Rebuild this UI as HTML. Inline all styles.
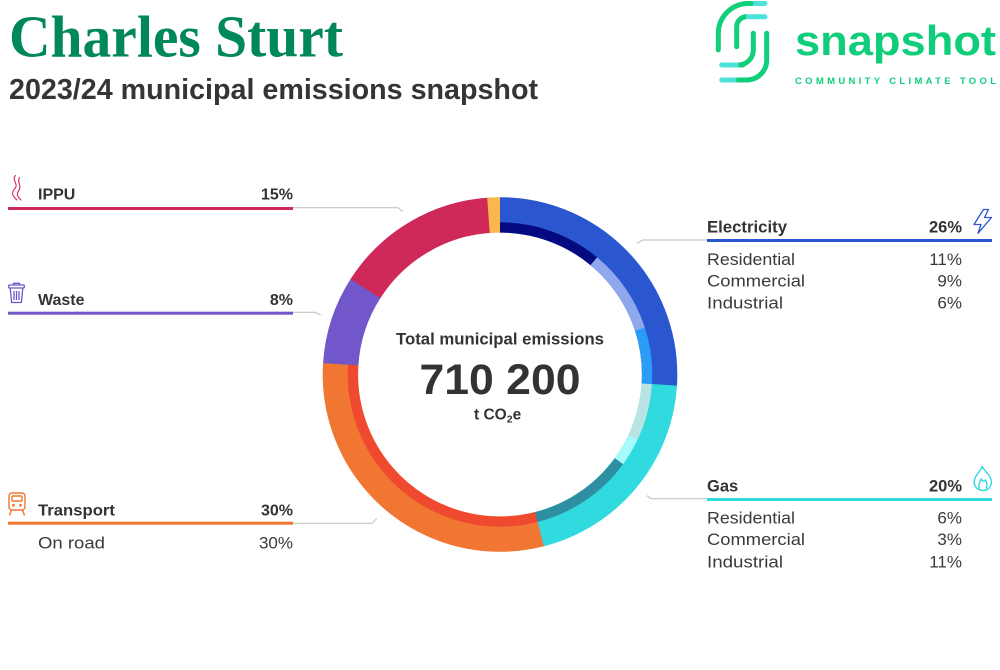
<!DOCTYPE html>
<html>
<head>
<meta charset="utf-8">
<style>
  html, body { margin: 0; padding: 0; background: #ffffff; }
  body { width: 1000px; height: 670px; overflow: hidden; }
  svg { display: block; }
  text { font-family: "Liberation Sans", Arial, sans-serif; }
</style>
</head>
<body>
<svg width="1000" height="670" viewBox="0 0 1000 670" xmlns="http://www.w3.org/2000/svg">
  <rect x="0" y="0" width="1000" height="670" fill="#ffffff"/>

  <!-- Title -->
  <text x="9" y="56.7" font-family="Liberation Serif, serif" font-weight="bold" font-size="59" fill="#00875a" textLength="334" lengthAdjust="spacingAndGlyphs" style="font-family:'Liberation Serif', serif">Charles Sturt</text>
  <text x="9" y="99" font-weight="bold" font-size="28.5" fill="#353535" textLength="529" lengthAdjust="spacingAndGlyphs">2023/24 municipal emissions snapshot</text>

  <!-- Logo icon -->
  <g fill="none" stroke-width="5" stroke-linecap="round">
    <path d="M765 3.5 H751" stroke="#4de2d9"/>
    <path d="M751 3.5 H748 A30 30 0 0 0 718.3 33.3 V50" stroke="#12cf7b"/>
    <path d="M765 16.8 H745" stroke="#4de2d9"/>
    <path d="M745 16.8 H746 A10 10 0 0 0 736.7 27 V46.7" stroke="#12cf7b"/>
    <path d="M743 65 H721.7" stroke="#4de2d9"/>
    <path d="M753.3 33.3 V50 A15 15 0 0 1 738.3 65 H743" stroke="#12cf7b"/>
    <path d="M738.3 80 H721.7" stroke="#4de2d9"/>
    <path d="M766.7 33.3 V60 A20 20 0 0 1 746.7 80 H738.3" stroke="#12cf7b"/>
  </g>
  <text x="795" y="55" font-weight="bold" font-size="42" fill="#10cd7c" textLength="201" lengthAdjust="spacingAndGlyphs">snapshot</text>
  <text x="795" y="84" font-weight="bold" font-size="9.5" fill="#10cd7c" textLength="201" lengthAdjust="spacing">COMMUNITY CLIMATE TOOL</text>

  <!-- Donut main ring -->
  <g transform="rotate(-90 500 374.5)" fill="none">
    <circle cx="500" cy="374.5" r="159.6" stroke="#2a57cf" stroke-width="35.4" stroke-dasharray="262.7 740.1" stroke-dashoffset="1"/>
    <circle cx="500" cy="374.5" r="159.6" stroke="#30dade" stroke-width="35.4" stroke-dasharray="201.6 801.2" stroke-dashoffset="-260.7"/>
    <circle cx="500" cy="374.5" r="159.6" stroke="#f07631" stroke-width="35.4" stroke-dasharray="301.8 701" stroke-dashoffset="-461.3"/>
    <circle cx="500" cy="374.5" r="159.6" stroke="#7257cb" stroke-width="35.4" stroke-dasharray="81.2 921.6" stroke-dashoffset="-762.1"/>
    <circle cx="500" cy="374.5" r="159.6" stroke="#cf2959" stroke-width="35.4" stroke-dasharray="151.4 851.4" stroke-dashoffset="-842.4"/>
    <circle cx="500" cy="374.5" r="159.6" stroke="#fbb64d" stroke-width="35.4" stroke-dasharray="12 990.8" stroke-dashoffset="-990.8"/>

    <!-- Sub ring -->
    <circle cx="500" cy="374.5" r="147.1" stroke="#050a80" stroke-width="10.2" stroke-dasharray="102.5 821.8" stroke-dashoffset="0"/>
    <circle cx="500" cy="374.5" r="147.1" stroke="#8fa7ec" stroke-width="10.2" stroke-dasharray="84 840.3" stroke-dashoffset="-101.7"/>
    <circle cx="500" cy="374.5" r="147.1" stroke="#2a9cf8" stroke-width="10.2" stroke-dasharray="56.3 868" stroke-dashoffset="-184.9"/>
    <circle cx="500" cy="374.5" r="147.1" stroke="#bae3e3" stroke-width="10.2" stroke-dasharray="56.3 868" stroke-dashoffset="-240.3"/>
    <circle cx="500" cy="374.5" r="147.1" stroke="#a7fbfc" stroke-width="10.2" stroke-dasharray="28.5 895.8" stroke-dashoffset="-295.8"/>
    <circle cx="500" cy="374.5" r="147.1" stroke="#2f8fa2" stroke-width="10.2" stroke-dasharray="102.5 821.8" stroke-dashoffset="-323.5"/>
    <circle cx="500" cy="374.5" r="147.1" stroke="#ef4a30" stroke-width="10.2" stroke-dasharray="277.3 647" stroke-dashoffset="-425.2"/>
  </g>

  <!-- Center text -->
  <text x="500" y="344.3" text-anchor="middle" font-weight="bold" font-size="16.6" fill="#333333" textLength="208" lengthAdjust="spacingAndGlyphs">Total municipal emissions</text>
  <text x="500" y="394" text-anchor="middle" font-weight="bold" font-size="43" fill="#333333" textLength="161" lengthAdjust="spacingAndGlyphs">710 200</text>
  <text x="474" y="419.3" font-weight="bold" font-size="15.5" fill="#333333">t CO<tspan font-size="10.5" dy="3">2</tspan><tspan dy="-3">e</tspan></text>

  <!-- Leader lines -->
  <g fill="none" stroke="#bdbdbd" stroke-width="1">
    <path d="M293 207.8 H398.3 L402.7 211.7"/>
    <path d="M293 312.3 H315 L320.7 315"/>
    <path d="M293 523.3 H372.3 L376.7 518.3"/>
    <path d="M707 240 H643 L636.7 243.3"/>
    <path d="M707 498.7 H651.7 L646.7 495.7"/>
  </g>

  <!-- Left: IPPU -->
  <g fill="none" stroke="#d42a5a" stroke-width="1.1" stroke-linecap="round">
    <path d="M15.5 175.5 C11 180, 19.5 184, 14.5 189 C10.5 193, 13.5 197, 17 200"/>
    <path d="M19.5 177.5 C16.5 182, 22.5 186, 18.5 191 C15.5 195, 19 198, 21 200"/>
  </g>
  <text x="38" y="199.3" font-weight="bold" font-size="16" fill="#333333">IPPU</text>
  <text x="293" y="199.3" text-anchor="end" font-weight="bold" font-size="16" fill="#333333">15%</text>
  <rect x="8" y="207" width="285" height="3" fill="#cf2959"/>

  <!-- Left: Waste -->
  <g fill="none" stroke="#7255cc" stroke-width="1.3" stroke-linejoin="round">
    <rect x="8.7" y="285" width="15.6" height="3" rx="1"/>
    <path d="M13.5 285 V283.3 H19.5 V285"/>
    <path d="M10.2 288 L11.6 302.5 H21.4 L22.8 288"/>
    <path d="M14 291 V300 M16.5 291 V300 M19 291 V300"/>
  </g>
  <text x="38" y="305" font-weight="bold" font-size="16" fill="#333333">Waste</text>
  <text x="293" y="305" text-anchor="end" font-weight="bold" font-size="16" fill="#333333">8%</text>
  <rect x="8" y="311.7" width="285" height="3" fill="#7257cb"/>

  <!-- Left: Transport -->
  <g fill="none" stroke="#f07531" stroke-width="1.4" stroke-linejoin="round">
    <rect x="9" y="493" width="16" height="17" rx="3"/>
    <rect x="12" y="496" width="10" height="5" rx="1"/>
    <path d="M11.5 510 L9.5 515.5 M22.5 510 L24.5 515.5"/>
  </g>
  <circle cx="13.5" cy="505.3" r="1.4" fill="#f07531"/>
  <circle cx="20.5" cy="505.3" r="1.4" fill="#f07531"/>
  <text x="38" y="515.7" font-weight="bold" font-size="16" fill="#333333" textLength="77" lengthAdjust="spacingAndGlyphs">Transport</text>
  <text x="293" y="515.7" text-anchor="end" font-weight="bold" font-size="16" fill="#333333">30%</text>
  <rect x="8" y="521.7" width="285" height="3" fill="#f07631"/>
  <text x="38" y="548.3" font-size="17" fill="#3a3a3a" textLength="67" lengthAdjust="spacingAndGlyphs">On road</text>
  <text x="293" y="548.3" text-anchor="end" font-size="17" fill="#3a3a3a">30%</text>

  <!-- Right: Electricity -->
  <path d="M983.5 209.5 L974 224.5 H981 L978 233.3 L991.5 217.5 H984.5 L988.5 209.5 Z" fill="none" stroke="#2a57cf" stroke-width="1.3" stroke-linejoin="round"/>
  <text x="707" y="232.3" font-weight="bold" font-size="16.5" fill="#333333" textLength="80" lengthAdjust="spacingAndGlyphs">Electricity</text>
  <text x="962" y="232.3" text-anchor="end" font-weight="bold" font-size="16.5" fill="#333333">26%</text>
  <rect x="707" y="239" width="285" height="3" fill="#2a57cf"/>
  <text x="707" y="265" font-size="17" fill="#3a3a3a" textLength="88" lengthAdjust="spacingAndGlyphs">Residential</text>
  <text x="962" y="265" text-anchor="end" font-size="17" fill="#3a3a3a">11%</text>
  <text x="707" y="286.7" font-size="17" fill="#3a3a3a" textLength="98" lengthAdjust="spacingAndGlyphs">Commercial</text>
  <text x="962" y="286.7" text-anchor="end" font-size="17" fill="#3a3a3a">9%</text>
  <text x="707" y="308.3" font-size="17" fill="#3a3a3a" textLength="76" lengthAdjust="spacingAndGlyphs">Industrial</text>
  <text x="962" y="308.3" text-anchor="end" font-size="17" fill="#3a3a3a">6%</text>

  <!-- Right: Gas -->
  <g fill="none" stroke="#30d9de" stroke-width="1.4" stroke-linejoin="round" stroke-linecap="round">
    <path d="M982 466.5 C980.5 472, 974.2 475.5, 974.2 482 C974.2 487, 978 490.5, 983 490.5 C988 490.5, 991.3 487, 991.3 482 C991.3 476, 986 472.5, 982 466.5 Z"/>
    <path d="M979.3 488.3 C977.8 484.5, 980 482, 981.3 478.8 C982.3 481.5, 983.5 482, 985.3 480 C987.3 483, 987.3 486, 986.2 488.3"/>
  </g>
  <text x="707" y="491.7" font-weight="bold" font-size="16.5" fill="#333333">Gas</text>
  <text x="962" y="491.7" text-anchor="end" font-weight="bold" font-size="16.5" fill="#333333">20%</text>
  <rect x="707" y="498" width="285" height="3" fill="#30dade"/>
  <text x="707" y="523.3" font-size="17" fill="#3a3a3a" textLength="88" lengthAdjust="spacingAndGlyphs">Residential</text>
  <text x="962" y="523.3" text-anchor="end" font-size="17" fill="#3a3a3a">6%</text>
  <text x="707" y="545" font-size="17" fill="#3a3a3a" textLength="98" lengthAdjust="spacingAndGlyphs">Commercial</text>
  <text x="962" y="545" text-anchor="end" font-size="17" fill="#3a3a3a">3%</text>
  <text x="707" y="567.3" font-size="17" fill="#3a3a3a" textLength="76" lengthAdjust="spacingAndGlyphs">Industrial</text>
  <text x="962" y="567.3" text-anchor="end" font-size="17" fill="#3a3a3a">11%</text>
</svg>
</body>
</html>
